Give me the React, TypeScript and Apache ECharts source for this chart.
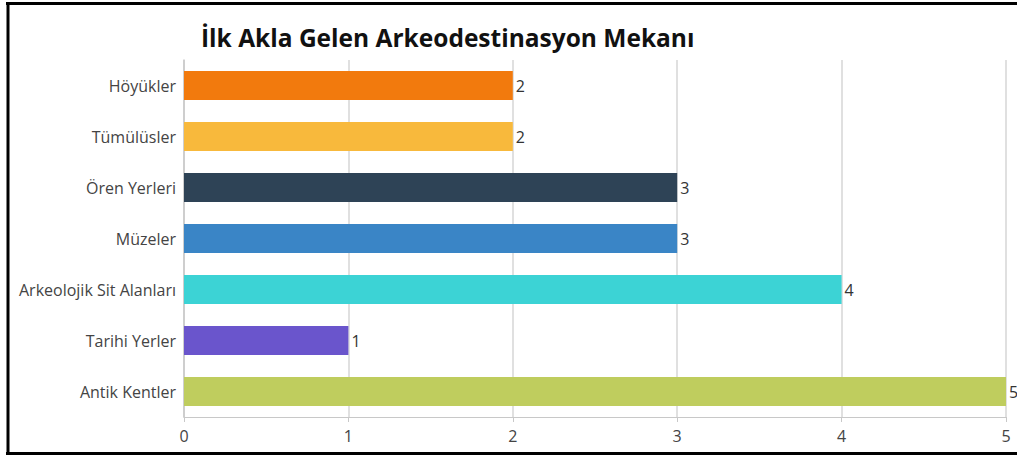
import React, { useEffect, useRef } from "react";
import * as echarts from "echarts";

const categories = [
  "Höyükler",
  "Tümülüsler",
  "Ören Yerleri",
  "Müzeler",
  "Arkeolojik Sit Alanları",
  "Tarihi Yerler",
  "Antik Kentler",
];
const values = [2, 2, 3, 3, 4, 1, 5];
const colors = ["#F27A0D", "#F8B93C", "#2E4356", "#3A85C6", "#3CD3D5", "#6A55CC", "#BFCD5E"];
const titleText = "İlk Akla Gelen Arkeodestinasyon Mekanı";

export default function App() {
  const ref = useRef<HTMLDivElement>(null);
  useEffect(() => {
    if (!ref.current) return;
    const chart = echarts.init(ref.current, null, { renderer: "svg" });
    chart.setOption({
      animation: false,
      backgroundColor: "#ffffff",
      title: {
        text: titleText,
        left: 196,
        top: 20,
        textStyle: { fontFamily: "Open Sans", fontWeight: "bold", fontSize: 24.5, color: "#111" },
      },
      grid: { left: 184, right: 11, top: 60, bottom: 40, containLabel: false },
      xAxis: {
        type: "value",
        min: 0,
        max: 5,
        interval: 1,
        axisLine: { show: true, lineStyle: { color: "#c8c8c8" } },
        axisTick: { show: true, length: 5, lineStyle: { color: "#c8c8c8" } },
        axisLabel: { fontFamily: "Open Sans", fontSize: 16, color: "#444", margin: 11 },
        splitLine: { show: true, lineStyle: { color: "#d6d6d6", width: 1.5 } },
      },
      yAxis: {
        type: "category",
        inverse: true,
        data: categories,
        axisLine: { show: true, lineStyle: { color: "#c8c8c8", width: 1.5 } },
        axisTick: { show: false },
        axisLabel: { fontFamily: "Open Sans", fontSize: 16, color: "#444", margin: 8 },
      },
      series: [
        {
          type: "bar",
          barCategoryGap: "43%",
          data: values.map((v, i) => ({ value: v, itemStyle: { color: colors[i] } })),
          label: {
            show: true,
            position: "right",
            distance: 3,
            fontFamily: "Open Sans",
            fontSize: 16,
            color: "#333",
          },
        },
      ],
      graphic: [
        { type: "line", shape: { x1: 6, y1: 3.5, x2: 1017, y2: 3.5 }, style: { stroke: "#000", lineWidth: 3 } },
        { type: "line", shape: { x1: 8, y1: 2, x2: 8, y2: 455 }, style: { stroke: "#000", lineWidth: 3 } },
        { type: "line", shape: { x1: 6, y1: 453.5, x2: 1017, y2: 453.5 }, style: { stroke: "#000", lineWidth: 3 } },
      ],
    });
    return () => chart.dispose();
  }, []);
  return (
    <div
      ref={ref}
      style={{ position: "absolute", left: 0, top: 0, width: 1017, height: 457 }}
    />
  );
}
